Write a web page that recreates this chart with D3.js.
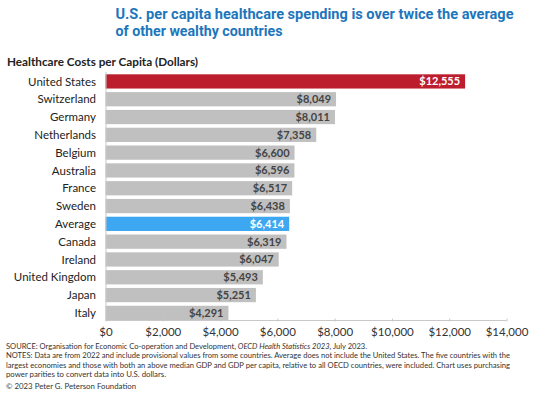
<!DOCTYPE html>
<html><head><meta charset="utf-8">
<script src="https://cdn.jsdelivr.net/npm/d3@7"></script>
<style>
body{margin:0;background:#fff;}
svg{display:block;}
</style></head>
<body>
<svg id="chart" width="537" height="398"></svg>
<script>
const countries = ["United States","Switzerland","Germany","Netherlands","Belgium","Australia","France","Sweden","Average","Canada","Ireland","United Kingdom","Japan","Italy"];
const spending = [12555,8049,8011,7358,6600,6596,6517,6438,6414,6319,6047,5493,5251,4291];
const xTicks = [0,2000,4000,6000,8000,10000,12000,14000];
const titleLines = ["U.S. per capita healthcare spending is over twice the average","of other wealthy countries"];
const subtitle = "Healthcare Costs per Capita (Dollars)";
const footnotes = [
  ["SOURCE: Organisation for Economic Co-operation and Development, ", "OECD Health Statistics 2023", ", July 2023."],
  ["NOTES: Data are from 2022 and include provisional values from some countries. Average does not include the United States. The five countries with the"],
  ["largest economies and those with both an above median GDP and GDP per capita, relative to all OECD countries, were included. Chart uses purchasing"],
  ["power parities to convert data into U.S. dollars."],
  ["\u00A9 2023 Peter G. Peterson Foundation"]
];

const svg = d3.select("#chart");
const font = "Lato, 'Open Sans', sans-serif";

const x = d3.scaleLinear().domain([0,14000]).range([105.5,506.5]);
const y = d3.scaleBand().domain(countries).range([74.3,320]).paddingInner(0.2).paddingOuter(0);

function fitWidth(sel, w){
  sel.each(function(){
    const l = this.getComputedTextLength();
    if (l > 0) d3.select(this).attr("textLength", w).attr("lengthAdjust","spacingAndGlyphs");
  });
}

// title
const tl = svg.selectAll("text.title").data(titleLines).join("text")
  .attr("class","title")
  .attr("x",115.5).attr("y",(d,i)=>19+i*16.5)
  .attr("font-family","Roboto, sans-serif").attr("font-weight","bold")
  .attr("font-size",14.5).attr("fill","#1d76bb").text(d=>d);
fitWidth(tl.filter((d,i)=>i===0), 398);
fitWidth(tl.filter((d,i)=>i===1), 167);

svg.append("text").attr("x",7).attr("y",65.5)
  .attr("font-family",font).attr("font-weight","bold").attr("font-size",12)
  .attr("fill","#222").text(subtitle)
  .call(s=>fitWidth(s,191));

// bars
const colorOf = d => d==="United States" ? "#bd1e2e" : d==="Average" ? "#3ea7f2" : "#c0c0c0";
svg.append("g").selectAll("rect").data(countries).join("rect")
  .attr("x",x(0)).attr("y",d=>y(d))
  .attr("width",(d,i)=>x(spending[i])-x(0))
  .attr("height",y.bandwidth())
  .attr("fill",colorOf);

// category labels
svg.append("g").selectAll("text").data(countries).join("text")
  .attr("x",96).attr("y",d=>y(d)+y.bandwidth()/2)
  .attr("dy","0.36em").attr("text-anchor","end")
  .attr("font-family",font).attr("font-size",11.5).attr("fill","#222")
  .text(d=>d);

// value labels
const fmt = d3.format("$,");
svg.append("g").selectAll("text").data(countries).join("text")
  .attr("x",(d,i)=>x(spending[i])-5).attr("y",d=>y(d)+y.bandwidth()/2)
  .attr("dy","0.36em").attr("text-anchor","end")
  .attr("font-family",font).attr("font-weight","bold").attr("font-size",11)
  .attr("fill",d=> (d==="United States"||d==="Average") ? "#fff" : "#444")
  .text((d,i)=>fmt(spending[i]));

// y axis line
svg.append("line").attr("x1",x(0)+0.5).attr("x2",x(0)+0.5)
  .attr("y1",72).attr("y2",320.5).attr("stroke","#c8c8c8").attr("stroke-width",1);

// x axis
const xAxis = d3.axisBottom(x).tickValues(xTicks).tickSize(3).tickPadding(4).tickFormat(d3.format("$,"));
const gx = svg.append("g").attr("transform","translate(0,320.5)").call(xAxis);
gx.select(".domain").attr("stroke","#c8c8c8").attr("d", `M${x(0)},0H${x(14000)}`);
gx.selectAll(".tick line").attr("stroke","#c8c8c8").attr("y1",-2).attr("y2",1);
gx.selectAll(".tick text").attr("font-family",font).attr("font-size",11.5).attr("fill","#333").attr("dy","0.75em");

// footnotes
const fnY = [348.5, 358.3, 367.6, 376.8, 389.3];
const fnW = [361, 504, 504, 160, 130];
const fnSize = [7.6, 7.6, 7.6, 7.6, 8.4];
const fn = svg.append("g");
footnotes.forEach((parts,i)=>{
  const t = fn.append("text").attr("x",6).attr("y",fnY[i])
    .attr("font-family",font).attr("font-size",fnSize[i]).attr("fill","#333");
  parts.forEach((p,j)=>{
    t.append("tspan").attr("font-style", (parts.length===3 && j===1) ? "italic" : null).text(p);
  });
  fitWidth(t, fnW[i]);
});
</script>
</body></html>
